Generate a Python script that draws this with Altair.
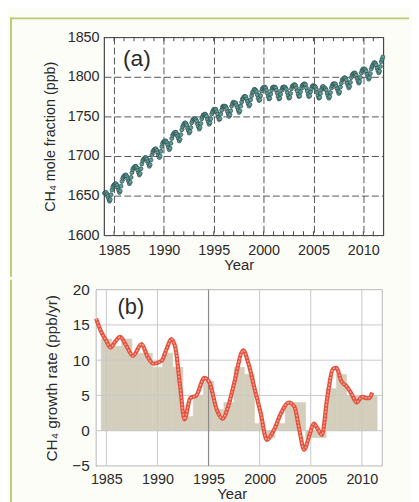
import altair as alt
import pandas as pd

# ---------------- data ----------------
# (a) monthly CH4 mole fraction (ppb), Jan..Dec for each year
ch4_1984 = [1653, 1654, 1654, 1652, 1649, 1646, 1643, 1645, 1651, 1657, 1661, 1663]
ch4_1985 = [1664, 1665, 1665, 1663, 1660, 1657, 1654, 1656, 1662, 1668, 1672, 1674]
ch4_1986 = [1675, 1676, 1676, 1674, 1671, 1668, 1665, 1667, 1673, 1679, 1683, 1685]
ch4_1987 = [1686, 1687, 1687, 1685, 1682, 1679, 1676, 1678, 1684, 1690, 1694, 1696]
ch4_1988 = [1697, 1698, 1698, 1696, 1693, 1690, 1687, 1689, 1695, 1701, 1705, 1707]
ch4_1989 = [1708, 1709, 1709, 1707, 1704, 1701, 1698, 1700, 1706, 1712, 1716, 1718]
ch4_1990 = [1718, 1719, 1719, 1717, 1714, 1711, 1708, 1710, 1716, 1722, 1726, 1728]
ch4_1991 = [1729, 1730, 1730, 1728, 1725, 1722, 1719, 1721, 1727, 1733, 1737, 1739]
ch4_1992 = [1741, 1742, 1741, 1739, 1735, 1732, 1729, 1731, 1736, 1742, 1745, 1747]
ch4_1993 = [1746, 1747, 1746, 1744, 1740, 1737, 1734, 1736, 1741, 1747, 1750, 1752]
ch4_1994 = [1752, 1753, 1752, 1750, 1746, 1743, 1740, 1742, 1747, 1753, 1756, 1758]
ch4_1995 = [1759, 1759, 1759, 1756, 1753, 1749, 1746, 1747, 1753, 1758, 1762, 1763]
ch4_1996 = [1762, 1763, 1762, 1760, 1756, 1753, 1750, 1752, 1757, 1763, 1766, 1768]
ch4_1997 = [1767, 1767, 1767, 1764, 1761, 1758, 1755, 1757, 1763, 1768, 1772, 1773]
ch4_1998 = [1775, 1775, 1775, 1772, 1769, 1766, 1763, 1765, 1771, 1776, 1780, 1781]
ch4_1999 = [1784, 1784, 1783, 1781, 1777, 1773, 1770, 1771, 1776, 1782, 1785, 1786]
ch4_2000 = [1787, 1787, 1786, 1783, 1779, 1775, 1772, 1773, 1778, 1783, 1786, 1787]
ch4_2001 = [1787, 1787, 1786, 1783, 1779, 1775, 1772, 1773, 1778, 1783, 1786, 1787]
ch4_2002 = [1787, 1787, 1786, 1784, 1780, 1776, 1773, 1774, 1779, 1785, 1788, 1789]
ch4_2003 = [1790, 1790, 1789, 1786, 1782, 1778, 1775, 1776, 1781, 1786, 1789, 1790]
ch4_2004 = [1791, 1791, 1790, 1786, 1782, 1778, 1775, 1776, 1781, 1785, 1788, 1789]
ch4_2005 = [1788, 1788, 1787, 1784, 1780, 1776, 1773, 1774, 1779, 1784, 1787, 1788]
ch4_2006 = [1785, 1786, 1785, 1783, 1779, 1776, 1773, 1775, 1780, 1786, 1789, 1791]
ch4_2007 = [1791, 1791, 1791, 1788, 1785, 1782, 1779, 1781, 1787, 1792, 1796, 1797]
ch4_2008 = [1798, 1799, 1798, 1796, 1792, 1789, 1786, 1788, 1793, 1799, 1802, 1804]
ch4_2009 = [1804, 1805, 1804, 1802, 1798, 1795, 1792, 1794, 1799, 1805, 1808, 1810]
ch4_2010 = [1809, 1810, 1809, 1807, 1803, 1800, 1797, 1799, 1804, 1810, 1813, 1815]
ch4_2011 = [1817, 1818, 1817, 1815, 1811, 1808, 1805, 1807, 1813, 1819, 1822, 1825]

ch4_years = list(range(1984, 2012))
ch4_monthly = [ch4_1984, ch4_1985, ch4_1986, ch4_1987, ch4_1988, ch4_1989, ch4_1990,
               ch4_1991, ch4_1992, ch4_1993, ch4_1994, ch4_1995, ch4_1996, ch4_1997,
               ch4_1998, ch4_1999, ch4_2000, ch4_2001, ch4_2002, ch4_2003, ch4_2004,
               ch4_2005, ch4_2006, ch4_2007, ch4_2008, ch4_2009, ch4_2010, ch4_2011]
# deseasonalised trend (annual, mid-year)
ch4_trend = [1652, 1663, 1674, 1685, 1696, 1707, 1717, 1728, 1738, 1743, 1749, 1755, 1759,
             1764, 1772, 1779, 1781, 1781, 1782, 1784, 1784, 1782, 1782, 1788, 1795, 1801,
             1806, 1814]

# (b) annual growth rate bars (ppb/yr)
bar_years = list(range(1985, 2012))
bar_rates = [13, 12, 13, 11, 11, 9, 11, 9, 2, 5, 7, 3, 4, 9, 8, 1, -1, 1, 4, 4, -1, -1,
             6, 8, 5, 5, 5]

# (b) smoothed growth-rate curve
curve_t = [1984.0, 1984.5, 1985.0, 1985.4, 1985.85, 1986.35, 1986.9, 1987.6, 1988.45,
           1989.0, 1989.6, 1990.4, 1990.9, 1991.35, 1991.75, 1992.2, 1992.65, 1993.2,
           1993.8, 1994.6, 1995.1, 1995.8, 1996.35, 1997.0, 1997.5, 1998.4, 1998.85,
           1999.5, 2000.1, 2000.7, 2001.4, 2002.1, 2002.85, 2003.4, 2003.9, 2004.35,
           2004.9, 2005.3, 2005.7, 2006.1, 2006.6, 2007.2, 2007.5, 2008.0, 2008.5,
           2009.0, 2009.5, 2010.0, 2010.5, 2010.8, 2011.0]
curve_v = [15.9, 14.0, 12.7, 11.8, 12.6, 13.3, 12.2, 10.6, 12.3, 10.6, 9.5, 9.9, 11.6,
           13.0, 11.8, 6.5, 1.6, 4.6, 5.0, 7.5, 6.8, 3.0, 1.7, 3.8, 6.7, 11.4, 9.8, 6.0,
           2.5, -1.3, 0.1, 2.5, 4.0, 3.4, 0.0, -2.7, -0.5, 1.0, 0.2, -0.6, 4.5, 8.8, 8.9,
           7.0, 6.3, 5.2, 4.0, 4.8, 4.6, 4.7, 5.4]

x_ticks = [1985, 1990, 1995, 2000, 2005, 2010]
a_yticks = [1600, 1650, 1700, 1750, 1800, 1850]
b_yticks = [-5, 0, 5, 10, 15, 20]
minor_years = list(range(1985, 2012))
b_xgrid = [1985, 1990, 2000, 2005, 2010]
b_ygrid = [0, 5, 10, 15]

# ---------------- tables ----------------
rows = []
for yr, vals in zip(ch4_years, ch4_monthly):
    for m, v in enumerate(vals):
        rows.append({"t": yr + (m + 0.5) / 12.0, "v": v})
df_pts = pd.DataFrame(rows)
df_trend = pd.DataFrame({"t": [y + 0.5 for y in ch4_years], "v": ch4_trend})
df_minor = pd.DataFrame({"t": minor_years})
df_bars = pd.DataFrame({"year": bar_years, "rate": bar_rates})
df_curve = pd.DataFrame({"t": curve_t, "v": curve_v})
one = pd.DataFrame({"k": [0]})

FONT = "Liberation Sans"
TXT = "#2a2a2a"
GREEN = "#b9cb72"

WA, HA = 282, 200
WB, HB = 281, 178   # panel (b) x range starts 8 px left of its origin
SHIFT_B = 8

# ---------------- panel (a) ----------------
xs_a = alt.Scale(domain=[1984, 2012], nice=False, zero=False)
ys_a = alt.Scale(domain=[1600, 1850], nice=False, zero=False)

xa_axis = alt.Axis(values=x_ticks, format="d", title="Year", grid=True, gridDash=[7, 3],
                   gridColor="#555555", gridWidth=1, ticks=False, domain=False,
                   labelPadding=8, labelFontSize=14.5, labelColor=TXT, labelFlush=False,
                   labelOverlap=False, titleFontSize=15, titleFontWeight="normal",
                   titleColor=TXT, titlePadding=1, titleX=136)
ya_axis = alt.Axis(values=a_yticks, format="d", title="CH₄ mole fraction (ppb)", grid=True,
                   gridDash=[7, 3], gridColor="#555555", gridWidth=1, ticks=False,
                   domain=False, labelPadding=5, labelFontSize=14.5, labelColor=TXT,
                   labelOverlap=False, titleFontSize=14.5, titleFontWeight="normal",
                   titleColor=TXT, titlePadding=10)

XA = lambda f: alt.X(f, scale=xs_a, axis=xa_axis)
YA = lambda f: alt.Y(f, scale=ys_a, axis=ya_axis)

pts = alt.Chart(df_pts).mark_point(shape="circle", filled=True, size=16, fill="#5f9f99",
                                   stroke="#2c4c4b", strokeWidth=0.7, opacity=1).encode(
    x=XA("t:Q"), y=YA("v:Q"))
trend = alt.Chart(df_trend).mark_line(color="#d9534f", strokeWidth=0.9,
                                      strokeDash=[2, 2]).encode(x=XA("t:Q"), y=YA("v:Q"))
tick_bot = alt.Chart(df_minor).mark_rule(color="#444444", strokeWidth=1).encode(
    x=XA("t:Q"), y=alt.value(HA), y2=alt.value(HA - 4))
tick_top = alt.Chart(df_minor).mark_rule(color="#444444", strokeWidth=1).encode(
    x=XA("t:Q"), y=alt.value(0), y2=alt.value(4))
lab_a = alt.Chart(pd.DataFrame({"t": [1985.9], "v": [1814], "s": ["(a)"]})).mark_text(
    align="left", baseline="alphabetic", fontSize=23, color=TXT, font=FONT).encode(
    x=XA("t:Q"), y=YA("v:Q"), text="s:N")
border_top = alt.Chart(one).mark_rule(color=GREEN, strokeWidth=2, strokeCap="square").encode(
    x=alt.value(-94), x2=alt.value(307), y=alt.value(-19))
border_left_a = alt.Chart(one).mark_rule(color=GREEN, strokeWidth=2, strokeCap="square").encode(
    x=alt.value(-94), y=alt.value(-19), y2=alt.value(241))

panel_a = alt.layer(tick_bot, tick_top, trend, pts, lab_a, border_top, border_left_a).properties(
    width=WA, height=HA,
    view=alt.ViewBackground(fill="white", stroke="#444444", strokeWidth=1.2),
)

# ---------------- panel (b) ----------------
xs_b = alt.Scale(domain=[1984, 2012], range=[-SHIFT_B, WB], nice=False, zero=False)
ys_b = alt.Scale(domain=[-5, 20], nice=False, zero=False)

xb_axis = alt.Axis(values=x_ticks, format="d", title="Year", grid=False, ticks=False,
                   domain=False, labelPadding=7, labelFontSize=14.5, labelColor=TXT,
                   labelFlush=False, labelOverlap=False, titleFontSize=15,
                   titleFontWeight="normal", titleColor=TXT, titlePadding=0, titleX=129)
yb_axis = alt.Axis(values=b_yticks, format="d", title="CH₄ growth rate (ppb/yr)", grid=False,
                   ticks=False, domain=True, domainColor="#9a9a9a", domainWidth=1.2,
                   offset=SHIFT_B, labelPadding=7, labelFontSize=15.5, labelColor=TXT,
                   labelOverlap=False, titleFontSize=15.5, titleFontWeight="normal",
                   titleColor=TXT, titlePadding=12)

XB = lambda f: alt.X(f, scale=xs_b, axis=xb_axis)
YB = lambda f: alt.Y(f, scale=ys_b, axis=yb_axis)

frame_b = alt.Chart(one).mark_rect(fill="white", stroke="#b8b8b8", strokeWidth=1).encode(
    x=alt.XDatum(1984, scale=xs_b, axis=xb_axis), x2=alt.X2Datum(2012),
    y=alt.YDatum(-5, scale=ys_b, axis=yb_axis), y2=alt.Y2Datum(20))
bars = alt.Chart(df_bars).transform_calculate(
    x0="datum.year - 0.5", x1="datum.year + 0.5"
).mark_rect(color="#d3cfbc", stroke="#d3cfbc", strokeWidth=0.6).encode(
    x=XB("x0:Q"), x2="x1:Q", y=YB("rate:Q"), y2=alt.datum(0))
gx = alt.Chart(pd.DataFrame({"t": b_xgrid})).mark_rule(
    color="#c8c8c8", strokeWidth=1).encode(x=XB("t:Q"))
gx95 = alt.Chart(pd.DataFrame({"t": [1995]})).mark_rule(
    color="#8a8a8a", strokeWidth=1.2).encode(x=XB("t:Q"))
gy = alt.Chart(pd.DataFrame({"v": b_ygrid})).mark_rule(
    color="#c8c8c8", strokeWidth=1).encode(
    y=YB("v:Q"), x=alt.XDatum(1984, scale=xs_b, axis=xb_axis), x2=alt.X2Datum(2012))
curve_outer = alt.Chart(df_curve).mark_line(color="#e4503c", strokeWidth=4.2,
                                            interpolate="monotone").encode(
    x=XB("t:Q"), y=YB("v:Q"))
curve_inner = alt.Chart(df_curve).mark_line(color="#f7a696", strokeWidth=1.5,
                                            strokeDash=[2, 1.5],
                                            interpolate="monotone").encode(
    x=XB("t:Q"), y=YB("v:Q"))
lab_b = alt.Chart(pd.DataFrame({"t": [1986.1], "v": [16.6], "s": ["(b)"]})).mark_text(
    align="left", baseline="alphabetic", fontSize=22, color=TXT, font=FONT).encode(
    x=XB("t:Q"), y=YB("v:Q"), text="s:N")
border_left_b = alt.Chart(one).mark_rule(color=GREEN, strokeWidth=2, strokeCap="square").encode(
    x=alt.value(-94), y=alt.value(-9), y2=alt.value(215))

panel_b = alt.layer(frame_b, bars, gx, gy, gx95, curve_outer, curve_inner, lab_b,
                    border_left_b).properties(
    width=WB, height=HB,
    view=alt.ViewBackground(strokeOpacity=0),
)

chart = alt.vconcat(panel_a, panel_b, spacing=0).properties(
    padding={"left": 0, "top": 5, "right": 0, "bottom": 0},
    background="#fdfdf8",
).configure(font=FONT)

chart.save("out.html", embed_options={"renderer": "svg", "actions": False})
